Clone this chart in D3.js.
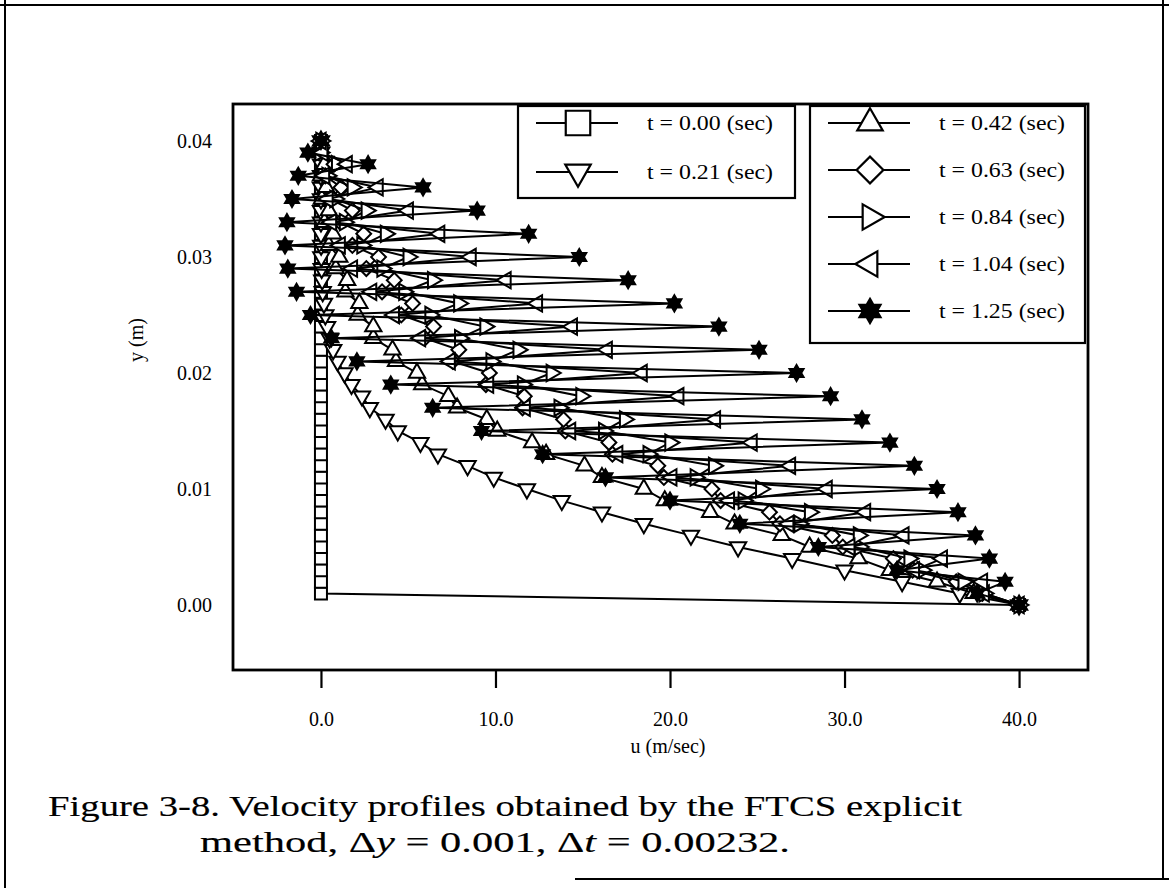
<!DOCTYPE html>
<html>
<head>
<meta charset="utf-8">
<script src="https://cdn.jsdelivr.net/npm/d3@7"></script>
<style>
  body { margin: 0; background: #fff; }
  text { font-family: "Liberation Serif", "Times New Roman", serif; fill: #000; }
</style>
</head>
<body>
<svg id="chart" width="1169" height="888"></svg>
<script>
// grid points y (m)
const yGrid = [0.000, 0.001, 0.002, 0.003, 0.004, 0.005, 0.006, 0.007, 0.008, 0.009,
               0.010, 0.011, 0.012, 0.013, 0.014, 0.015, 0.016, 0.017, 0.018, 0.019,
               0.020, 0.021, 0.022, 0.023, 0.024, 0.025, 0.026, 0.027, 0.028, 0.029,
               0.030, 0.031, 0.032, 0.033, 0.034, 0.035, 0.036, 0.037, 0.038, 0.039, 0.040];

// u (m/sec), one value per grid point
const u_t000 = [40, 0, 0, 0, 0, 0, 0, 0, 0, 0, 0, 0, 0, 0, 0, 0, 0, 0, 0, 0, 0,
                0, 0, 0, 0, 0, 0, 0, 0, 0, 0, 0, 0, 0, 0, 0, 0, 0, 0, 0, 0];
const u_t021 = [40, 36.6, 33.3, 30.0, 27.0, 23.9, 21.2, 18.5, 16.1, 13.8, 11.8,
                9.9, 8.4, 6.7, 5.7, 4.4, 3.7, 2.8, 2.35, 1.75, 1.35,
                0.95, 0.7, 0.5, 0.35, 0.25, 0.17, 0.1, 0.07, 0.04, 0.02,
                0.01, 0, 0, 0, 0, 0, 0, 0, 0, 0];
const u_t042 = [40, 37.4, 35.3, 32.6, 30.8, 28.0, 26.4, 23.7, 22.3, 19.7, 18.5,
                16.1, 15.1, 12.9, 12.1, 10.1, 9.5, 7.8, 7.3, 5.8, 5.5,
                4.3, 4.1, 3.0, 3.0, 2.1, 2.2, 1.4, 1.5, 0.85, 1.05,
                0.45, 0.7, 0.2, 0.45, 0.05, 0.3, 0.0, 0.2, -0.05, 0];
const u_t063 = [40, 37.9, 36.4, 33.9, 32.8, 29.9, 29.3, 26.3, 25.7, 22.9, 22.4,
                19.65, 19.3, 16.7, 16.5, 14.0, 13.9, 11.55, 11.65, 9.45, 9.65,
                7.55, 7.9, 5.95, 6.45, 4.6, 5.25, 3.5, 4.2, 2.6, 3.3,
                1.8, 2.45, 1.1, 1.8, 0.55, 1.15, 0.25, 0.75, -0.15, 0];
const u_t084 = [40, 38.0, 36.8, 34.45, 33.7, 30.85, 30.8, 27.4, 28.0, 24.2, 25.2,
                21.45, 22.5, 18.75, 20.0, 16.2, 17.4, 13.65, 14.9, 11.55, 13.2,
                9.75, 11.3, 7.95, 9.4, 6.25, 7.9, 4.75, 6.4, 3.5, 5.0,
                2.35, 3.7, 1.35, 2.6, 0.8, 1.8, 0.35, 0.9, -0.05, 0];
const u_t104 = [40, 38.0, 37.9, 34.0, 35.6, 30.3, 33.4, 26.8, 31.2, 23.4, 29.0,
                20.1, 26.9, 17.0, 24.7, 14.3, 22.6, 11.7, 20.5, 9.6, 18.4,
                7.4, 16.4, 5.7, 14.4, 4.2, 12.4, 2.9, 10.6, 1.8, 8.6,
                1.1, 6.8, 0.6, 5.0, 0.4, 3.27, 0.2, 1.5, 0.1, 0];
const u_t125 = [40, 37.6, 39.2, 33.0, 38.3, 28.5, 37.5, 24.0, 36.5, 20.0, 35.3,
                16.3, 34.0, 12.7, 32.6, 9.2, 31.0, 6.4, 29.2, 4.0, 27.25,
                2.06, 25.1, 0.6, 22.8, -0.6, 20.25, -1.4, 17.6, -1.9, 14.8,
                -2.06, 11.9, -1.95, 8.95, -1.66, 5.85, -1.3, 2.7, -0.75, 0];

const seriesLabels = ["t = 0.00 (sec)", "t = 0.21 (sec)", "t = 0.42 (sec)", "t = 0.63 (sec)",
                      "t = 0.84 (sec)", "t = 1.04 (sec)", "t = 1.25 (sec)"];
const seriesMarkers = ["square", "tri-down", "tri-up", "diamond", "tri-right", "tri-left", "star"];

const xTicks = [0, 10, 20, 30, 40];
const xTickLabels = ["0.0", "10.0", "20.0", "30.0", "40.0"];
const yTicks = [0, 0.01, 0.02, 0.03, 0.04];
const yTickLabels = ["0.00", "0.01", "0.02", "0.03", "0.04"];

const allSeries = [u_t000, u_t021, u_t042, u_t063, u_t084, u_t104, u_t125];

// six pointed star
const symbolHexagram = {
    draw(context, size) {
        let r = Math.sqrt(size) * 0.62;
        let ri = r * 0.577;
        for (let k = 0; k < 12; k++) {
            let a = -Math.PI / 2 + k * Math.PI / 6;
            let rr = (k % 2 == 0) ? r : ri;
            let px = rr * Math.cos(a), py = rr * Math.sin(a);
            if (k == 0) context.moveTo(px, py); else context.lineTo(px, py);
        }
        context.closePath();
    }
};

function marker_path(type, size) {
    if (type == "square") return d3.symbol(d3.symbolSquare, size)();
    if (type == "diamond") return d3.symbol(d3.symbolSquare, size)();
    if (type == "star") return d3.symbol(symbolHexagram, size)();
    return d3.symbol(d3.symbolTriangle, size)();
}

function marker_rotate(type) {
    if (type == "tri-down") return 180;
    if (type == "tri-right") return 90;
    if (type == "tri-left") return -90;
    if (type == "diamond") return 45;
    return 0;
}

function marker_size(type, big) {
    if (big) {
        return { "square": 600, "diamond": 360, "star": 380,
                 "tri-up": 280, "tri-down": 280, "tri-right": 280, "tri-left": 280 }[type];
    }
    return { "square": 144, "diamond": 110, "star": 170,
             "tri-up": 115, "tri-down": 115, "tri-right": 115, "tri-left": 115 }[type];
}

const svg = d3.select("#chart");

const plotLeft = 233, plotRight = 1088, plotTop = 104, plotBottom = 670;

const x = d3.scaleLinear().domain([-5.04, 43.95]).range([plotLeft, plotRight]);
const y = d3.scaleLinear().domain([0, 0.04]).range([605, 141]);

// outer page border (scan frame)
svg.append("line").attr("x1", 0).attr("x2", 1169).attr("y1", 5).attr("y2", 5)
    .attr("stroke", "#000").attr("stroke-width", 2);
svg.append("line").attr("x1", 5).attr("x2", 5).attr("y1", 0).attr("y2", 888)
    .attr("stroke", "#000").attr("stroke-width", 2);
svg.append("line").attr("x1", 1163).attr("x2", 1163).attr("y1", 0).attr("y2", 879)
    .attr("stroke", "#000").attr("stroke-width", 2);
svg.append("line").attr("x1", 575).attr("x2", 1169).attr("y1", 879).attr("y2", 879)
    .attr("stroke", "#000").attr("stroke-width", 2);

// axes
let xAxis = svg.append("g")
    .attr("transform", `translate(0,${plotBottom})`)
    .call(d3.axisBottom(x).tickValues(xTicks)
        .tickFormat((d, i) => xTickLabels[i]).tickSize(18).tickPadding(24));
let yAxis = svg.append("g")
    .attr("transform", `translate(${plotLeft},0)`)
    .call(d3.axisLeft(y).tickValues(yTicks)
        .tickFormat((d, i) => yTickLabels[i]).tickSize(0).tickPadding(21));
[xAxis, yAxis].forEach(a => {
    a.select(".domain").remove();
    a.selectAll("line").attr("stroke", "#000").attr("stroke-width", 2.2);
    a.selectAll("text").attr("font-size", 20).attr("font-family", "Liberation Serif");
});

svg.append("text").attr("x", 668).attr("y", 753).attr("text-anchor", "middle")
    .attr("font-size", 20).text("u (m/sec)");
svg.append("text").attr("transform", "translate(143,340) rotate(-90)")
    .attr("text-anchor", "middle").attr("font-size", 20).text("y (m)");

// series
const line = d3.line().x(d => x(d[0])).y(d => y(d[1]));

allSeries.forEach((vals, si) => {
    let pts = vals.map((u, j) => [u, yGrid[j]]);
    let type = seriesMarkers[si];
    let g = svg.append("g");
    g.append("path").attr("d", line(pts))
        .attr("fill", "none").attr("stroke", "#000").attr("stroke-width", 2);
    g.selectAll("path.m").data(pts).enter().append("path")
        .attr("class", "m")
        .attr("d", marker_path(type, marker_size(type, false)))
        .attr("transform", d => `translate(${x(d[0])},${y(d[1])}) rotate(${marker_rotate(type)})`)
        .attr("fill", type == "star" ? "#000" : "#fff")
        .attr("stroke", "#000").attr("stroke-width", 2);
});

// frame
svg.append("rect").attr("x", plotLeft).attr("y", plotTop)
    .attr("width", plotRight - plotLeft).attr("height", plotBottom - plotTop)
    .attr("fill", "none").attr("stroke", "#000").attr("stroke-width", 2.8);

// legends
function legend_box(x0, y0, w, h, rows, items) {
    svg.append("rect").attr("x", x0).attr("y", y0).attr("width", w).attr("height", h)
        .attr("fill", "#fff").attr("stroke", "#000").attr("stroke-width", 2.2);
    items.forEach((si, k) => {
        let ry = rows[k];
        let type = seriesMarkers[si];
        svg.append("line").attr("x1", x0 + 18).attr("x2", x0 + 100)
            .attr("y1", ry).attr("y2", ry).attr("stroke", "#000").attr("stroke-width", 2);
        svg.append("path").attr("d", marker_path(type, marker_size(type, true)))
            .attr("transform", `translate(${x0 + 60},${ry}) rotate(${marker_rotate(type)})`)
            .attr("fill", type == "star" ? "#000" : "#fff")
            .attr("stroke", "#000").attr("stroke-width", 2.2);
        svg.append("text").attr("x", x0 + 129).attr("y", ry + 7)
            .attr("font-size", 20).attr("textLength", 126).attr("lengthAdjust", "spacingAndGlyphs")
            .text(seriesLabels[si]);
    });
}
legend_box(518, 106, 277, 92, [123, 172], [0, 1]);
legend_box(810, 106, 275, 237, [123, 170, 217, 264, 311], [2, 3, 4, 5, 6]);

// caption
let cap1 = svg.append("text").attr("x", 48).attr("y", 816)
    .attr("font-size", 30).attr("stroke", "#000").attr("stroke-width", 0.15)
    .attr("textLength", 914).attr("lengthAdjust", "spacingAndGlyphs")
    .text("Figure 3-8.  Velocity profiles obtained by the FTCS explicit");
let cap2 = svg.append("text").attr("x", 200).attr("y", 852)
    .attr("font-size", 30).attr("stroke", "#000").attr("stroke-width", 0.15)
    .attr("textLength", 590).attr("lengthAdjust", "spacingAndGlyphs");
cap2.append("tspan").text("method, Δ");
cap2.append("tspan").attr("font-style", "italic").text("y");
cap2.append("tspan").text(" = 0.001, Δ");
cap2.append("tspan").attr("font-style", "italic").text("t");
cap2.append("tspan").text(" = 0.00232.");
</script>
</body>
</html>
